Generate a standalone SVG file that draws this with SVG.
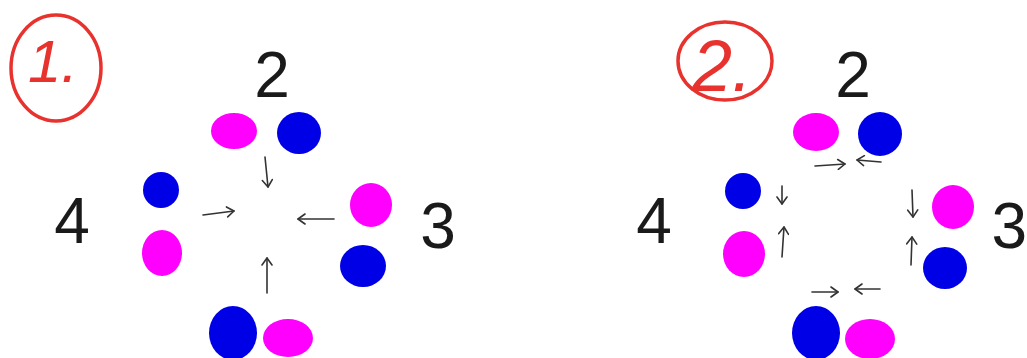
<svg xmlns="http://www.w3.org/2000/svg" width="1027" height="358" viewBox="0 0 1027 358">
<defs>
<marker id="ah" markerUnits="userSpaceOnUse" markerWidth="12" markerHeight="12" refX="9" refY="6" orient="auto">
<path d="M2,1 L9,6 L2,11" fill="none" stroke="#333" stroke-width="1.6" stroke-linecap="round" stroke-linejoin="round"/>
</marker>
<style>
.mag{fill:#ff00ff}
.blu{fill:#0000e6}
.lbl{font-family:"Liberation Sans","DejaVu Sans",sans-serif;font-size:64px;fill:#1a1a1a;text-anchor:middle}
.num{font-family:"Liberation Sans","DejaVu Sans",sans-serif;font-size:60px;fill:#e8322e;font-style:italic}
.ring{fill:none;stroke:#e8322e;stroke-width:3.5}
.arr{fill:none;stroke:#333;stroke-width:1.6;stroke-linecap:round;marker-end:url(#ah)}
</style>
</defs>
<rect width="1027" height="358" fill="#ffffff"/>

<!-- Panel 1 -->
<g id="badge1"><ellipse class="ring" cx="56" cy="68" rx="45" ry="53"/><text class="num" x="28" y="82">1.</text></g>
<g id="p1-label2"><text class="lbl" x="272" y="97">2</text></g>
<g id="p1-label4"><text class="lbl" x="72" y="243">4</text></g>
<g id="p1-label3"><text class="lbl" x="438" y="248">3</text></g>
<g id="p1-top"><ellipse class="mag" cx="234" cy="131" rx="23" ry="18"/><ellipse class="blu" cx="299" cy="133" rx="22" ry="21"/></g>
<g id="p1-left"><ellipse class="blu" cx="161" cy="190" rx="18" ry="18"/><ellipse class="mag" cx="162" cy="253" rx="20" ry="23"/></g>
<g id="p1-right"><ellipse class="mag" cx="371" cy="205" rx="21" ry="22"/><ellipse class="blu" cx="363" cy="266" rx="23" ry="21"/></g>
<g id="p1-bottom"><ellipse class="blu" cx="233" cy="333" rx="24" ry="27"/><ellipse class="mag" cx="288" cy="338" rx="25" ry="19"/></g>

<!-- Panel 2 -->
<g id="badge2"><ellipse class="ring" cx="725" cy="61" rx="47" ry="39"/><text class="num" x="692" y="91" style="font-size:72px">2.</text></g>
<g id="p2-label2"><text class="lbl" x="853" y="97">2</text></g>
<g id="p2-label4"><text class="lbl" x="654" y="243">4</text></g>
<g id="p2-label3"><text class="lbl" x="1027" y="248" style="text-anchor:end">3</text></g>
<g id="p2-top"><ellipse class="mag" cx="816" cy="132" rx="23" ry="19"/><ellipse class="blu" cx="880" cy="134" rx="22" ry="22"/></g>
<g id="p2-left"><ellipse class="blu" cx="743" cy="191" rx="18" ry="18"/><ellipse class="mag" cx="744" cy="254" rx="21" ry="23"/></g>
<g id="p2-right"><ellipse class="mag" cx="953" cy="207" rx="21" ry="22"/><ellipse class="blu" cx="945" cy="268" rx="22" ry="21"/></g>
<g id="p2-bottom"><ellipse class="blu" cx="816" cy="333" rx="24" ry="27"/><ellipse class="mag" cx="870" cy="339" rx="25" ry="20"/></g>

<g id="connectors">
<line class="arr" x1="265" y1="157" x2="268" y2="187"/>
<line class="arr" x1="203" y1="215" x2="234" y2="211"/>
<line class="arr" x1="334" y1="219" x2="298" y2="219"/>
<line class="arr" x1="267" y1="293" x2="267" y2="258"/>

<line class="arr" x1="815" y1="166" x2="845" y2="164"/>
<line class="arr" x1="881" y1="162" x2="857" y2="160"/>
<line class="arr" x1="782" y1="186" x2="782" y2="204"/>
<line class="arr" x1="782" y1="257" x2="784" y2="227"/>
<line class="arr" x1="912" y1="190" x2="913" y2="217"/>
<line class="arr" x1="911" y1="265" x2="912" y2="237"/>
<line class="arr" x1="812" y1="292" x2="838" y2="292"/>
<line class="arr" x1="880" y1="289" x2="855" y2="289"/>
</g>
</svg>
